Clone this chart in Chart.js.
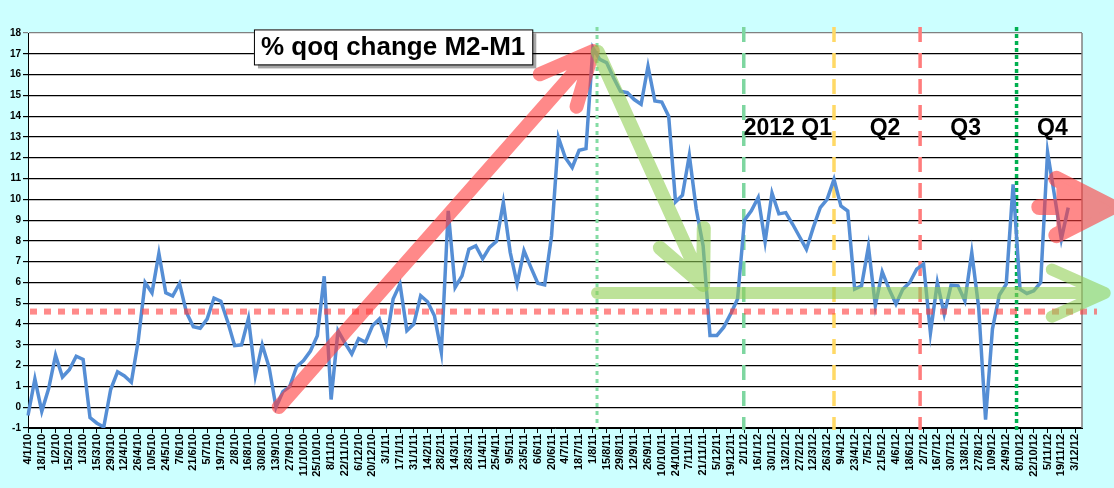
<!DOCTYPE html>
<html>
<head>
<meta charset="utf-8">
<script src="https://cdn.jsdelivr.net/npm/chart.js@4.4.1/dist/chart.umd.min.js"></script>
<style>
html,body{margin:0;padding:0;background:#ccffff;}
#wrap{width:1114px;height:488px;position:relative;}
</style>
</head>
<body>
<div id="wrap"><canvas id="canvas"></canvas></div>
<script>
// weekly dates, d/m/yy
const weeks2010=["4/1/10","11/1/10","18/1/10","25/1/10","1/2/10","8/2/10","15/2/10","22/2/10","1/3/10","8/3/10","15/3/10","22/3/10","29/3/10","5/4/10","12/4/10","19/4/10","26/4/10","3/5/10","10/5/10","17/5/10","24/5/10","31/5/10","7/6/10","14/6/10","21/6/10","28/6/10","5/7/10","12/7/10","19/7/10","26/7/10","2/8/10","9/8/10","16/8/10","23/8/10","30/8/10","6/9/10","13/9/10","20/9/10","27/9/10","4/10/10","11/10/10","18/10/10","25/10/10","1/11/10","8/11/10","15/11/10","22/11/10","29/11/10","6/12/10","13/12/10","20/12/10","27/12/10"];
const weeks2011=["3/1/11","10/1/11","17/1/11","24/1/11","31/1/11","7/2/11","14/2/11","21/2/11","28/2/11","7/3/11","14/3/11","21/3/11","28/3/11","4/4/11","11/4/11","18/4/11","25/4/11","2/5/11","9/5/11","16/5/11","23/5/11","30/5/11","6/6/11","13/6/11","20/6/11","27/6/11","4/7/11","11/7/11","18/7/11","25/7/11","1/8/11","8/8/11","15/8/11","22/8/11","29/8/11","5/9/11","12/9/11","19/9/11","26/9/11","3/10/11","10/10/11","17/10/11","24/10/11","31/10/11","7/11/11","14/11/11","21/11/11","28/11/11","5/12/11","12/12/11","19/12/11","26/12/11"];
const weeks2012=["2/1/12","9/1/12","16/1/12","23/1/12","30/1/12","6/2/12","13/2/12","20/2/12","27/2/12","5/3/12","12/3/12","19/3/12","26/3/12","2/4/12","9/4/12","16/4/12","23/4/12","30/4/12","7/5/12","14/5/12","21/5/12","28/5/12","4/6/12","11/6/12","18/6/12","25/6/12","2/7/12","9/7/12","16/7/12","23/7/12","30/7/12","6/8/12","13/8/12","20/8/12","27/8/12","3/9/12","10/9/12","17/9/12","24/9/12","1/10/12","8/10/12","15/10/12","22/10/12","29/10/12","5/11/12","12/11/12","19/11/12","26/11/12","3/12/12","10/12/12"];

// % qoq change M2-M1
const qoq2010=[-0.4,1.36,-0.2,0.9,2.5,1.45,1.8,2.45,2.3,-0.5,-0.77,-0.95,0.85,1.7,1.5,1.2,3.2,6.0,5.5,7.4,5.5,5.35,5.95,4.56,3.87,3.8,4.24,5.25,5.1,4.1,2.96,3.0,4.27,1.52,3.0,1.92,0.0,0.75,1.0,1.95,2.24,2.7,3.44,6.3,0.37,3.68,3.1,2.56,3.3,3.12,3.92,4.24];
const qoq2011=[3.17,5.2,5.92,3.68,4.0,5.36,5.07,4.4,2.64,9.44,5.76,6.32,7.6,7.76,7.14,7.69,7.98,9.85,7.45,5.93,7.53,6.73,5.96,5.88,8.25,12.97,12.0,11.53,12.36,12.44,17.29,16.73,16.57,15.85,15.2,15.13,14.8,14.57,16.4,14.73,14.68,14.0,9.88,10.2,12.12,9.53,7.77,3.45,3.45,3.85,4.49,5.2];
const qoq2012=[9.0,9.45,10.09,7.96,10.3,9.3,9.36,8.8,8.2,7.6,8.65,9.6,10.0,10.96,9.68,9.44,5.68,5.84,7.73,4.88,6.51,5.68,4.96,5.68,6.0,6.64,6.88,3.57,6.0,4.48,5.87,5.84,5.12,7.44,4.8,-0.6,3.76,5.4,5.92,10.72,5.68,5.47,5.6,6.0,12.27,10.2,8.08,9.6,null,null];

const labels=weeks2010.concat(weeks2011,weeks2012);
const values=qoq2010.concat(qoq2011,qoq2012);
const yMin=-1,yMax=18;
const refLevel=4.6;

// annotations in data units (x = week index, y = value)
const notes={
    title:{x:53,y:17.33,text:"% qoq change M2-M1"},
    quarters:[{x:110.3,text:"2012 Q1"},{x:124.4,text:"Q2"},{x:136.1,text:"Q3"},{x:148.7,text:"Q4"}],
    quarterY:13.4,
    vlines:[
        {x:82.6,color:"#84dca4",dash:[4,4],width:3},
        {x:103.9,color:"#7ed6a0",dash:[15,11],width:3.5},
        {x:117.0,color:"#ffd966",dash:[15,11],width:3.5},
        {x:129.5,color:"#ff7c7c",dash:[15,11],width:3.5},
        {x:143.5,color:"#00b050",dash:[4,3],width:3.5}
    ],
    arrows:[
        {from:[36.4,0.01],to:[82.0,17.13],color:"#ff3b3b",width:14,head:58,angle:25,fill:false},
        {from:[82.7,17.09],to:[98.0,5.88],color:"#92cf57",width:14,head:57,angle:25,fill:false},
        {from:[82.6,5.49],to:[156.3,5.49],color:"#92cf57",width:12,head:58,angle:24,fill:false},
        {from:[146.8,9.63],to:[157.3,9.63],color:"#ff3b3b",width:16,head:62,angle:27,fill:true}
    ]
};

const FONT="Arial, 'Liberation Sans', sans-serif";

function drawArrows(chart){
    const xs=chart.scales.x,ys=chart.scales.y;
    const r=chart.currentDevicePixelRatio;
    notes.arrows.forEach(a=>{
        // draw opaque on a layer, then blend once so overlaps don't darken
        const layer=document.createElement("canvas");
        layer.width=chart.canvas.width;layer.height=chart.canvas.height;
        const c=layer.getContext("2d");
        c.scale(r,r);
        const x1=xs.getPixelForValue(a.from[0]),y1=ys.getPixelForValue(a.from[1]);
        const x2=xs.getPixelForValue(a.to[0]),y2=ys.getPixelForValue(a.to[1]);
        const ang=Math.atan2(y2-y1,x2-x1);
        const h=a.angle*Math.PI/180;
        const p1=[x2-a.head*Math.cos(ang-h),y2-a.head*Math.sin(ang-h)];
        const p2=[x2-a.head*Math.cos(ang+h),y2-a.head*Math.sin(ang+h)];
        c.strokeStyle=a.color;c.fillStyle=a.color;
        c.lineWidth=a.width;c.lineCap="round";c.lineJoin="round";
        c.beginPath();
        c.moveTo(x1,y1);c.lineTo(x2,y2);
        c.moveTo(p1[0],p1[1]);c.lineTo(x2,y2);c.lineTo(p2[0],p2[1]);
        c.stroke();
        if(a.fill){
            c.beginPath();c.moveTo(x2,y2);c.lineTo(p1[0],p1[1]);c.lineTo(p2[0],p2[1]);c.closePath();c.fill();
        }
        const ctx=chart.ctx;
        ctx.save();
        ctx.setTransform(1,0,0,1,0,0);
        ctx.globalAlpha=0.6;
        ctx.drawImage(layer,0,0);
        ctx.restore();
    });
}

const annotate={
    id:"annotate",
    beforeDraw(chart){
        const ctx=chart.ctx,area=chart.chartArea;
        ctx.save();
        ctx.fillStyle="#fff";
        ctx.fillRect(area.left,area.top,area.right-area.left,area.bottom-area.top);
        ctx.restore();
    },
    beforeDatasetsDraw(chart){
        const ctx=chart.ctx,area=chart.chartArea,xs=chart.scales.x;
        ctx.save();
        // right border
        ctx.strokeStyle="#808080";ctx.lineWidth=1.5;
        ctx.beginPath();ctx.moveTo(area.right,area.top);ctx.lineTo(area.right,area.bottom);ctx.stroke();
        notes.vlines.forEach(v=>{
            const x=xs.getPixelForValue(v.x);
            ctx.strokeStyle=v.color;ctx.lineWidth=v.width;ctx.setLineDash(v.dash);
            ctx.beginPath();ctx.moveTo(x,area.top-6);ctx.lineTo(x,area.bottom+2);ctx.stroke();
        });
        ctx.restore();
    },
    afterDatasetsDraw(chart){
        const ctx=chart.ctx,area=chart.chartArea,xs=chart.scales.x,ys=chart.scales.y;
        // dotted reference level
        ctx.save();
        const yr=ys.getPixelForValue(refLevel);
        ctx.strokeStyle="rgba(255,60,60,0.6)";ctx.lineWidth=6;ctx.setLineDash([7,7]);
        ctx.beginPath();ctx.moveTo(area.left+2,yr);ctx.lineTo(area.right+15,yr);ctx.stroke();
        ctx.restore();
        drawArrows(chart);
        ctx.save();
        ctx.fillStyle="#000";
        ctx.font="bold 23px "+FONT;
        ctx.textAlign="center";ctx.textBaseline="middle";
        const qy=ys.getPixelForValue(notes.quarterY);
        notes.quarters.forEach(q=>{
            ctx.fillText(q.text,xs.getPixelForValue(q.x),qy);
        });
        // title box
        const tx=xs.getPixelForValue(notes.title.x),ty=ys.getPixelForValue(notes.title.y);
        ctx.font="bold 26px "+FONT;
        const w=ctx.measureText(notes.title.text).width+14,h=35;
        ctx.fillStyle="rgba(0,0,0,0.35)";
        ctx.fillRect(tx-w/2+4,ty-h/2+4,w,h);
        ctx.fillStyle="#fff";
        ctx.fillRect(tx-w/2,ty-h/2,w,h);
        ctx.strokeStyle="#000";ctx.lineWidth=1;
        ctx.strokeRect(tx-w/2+0.5,ty-h/2+0.5,w,h);
        ctx.fillStyle="#000";
        ctx.fillText(notes.title.text,tx,ty+1);
        ctx.restore();
    }
};

new Chart(document.getElementById("canvas"),{
    type:"line",
    data:{
        labels:labels,
        datasets:[{
            label:"% qoq change M2-M1",
            data:values,
            borderColor:"#558ed5",
            borderWidth:3.5,
            pointRadius:0,
            tension:0,
            spanGaps:false
        }]
    },
    options:{
        responsive:true,
        maintainAspectRatio:false,
        animation:false,
        layout:{padding:{left:0,right:32,top:33,bottom:0}},
        plugins:{legend:{display:false},tooltip:{enabled:false}},
        scales:{
            x:{
                offset:false,
                grid:{
                    drawOnChartArea:false,
                    tickLength:5,
                    color:c=>c.index%2===0?"#000":"rgba(0,0,0,0)"
                },
                border:{color:"#000",width:1},
                ticks:{
                    autoSkip:false,
                    minRotation:90,
                    maxRotation:90,
                    padding:1,
                    color:"#000",
                    font:{family:FONT,size:11,weight:"bold"},
                    callback:(v,i)=>i%2===0?labels[i]:""
                },
                afterFit:s=>{s.height=60;}
            },
            y:{
                min:yMin,
                max:yMax,
                ticks:{
                    stepSize:1,
                    padding:2,
                    color:"#000",
                    font:{family:FONT,size:10,weight:"bold"}
                },
                grid:{
                    tickLength:5,
                    lineWidth:1.2,
                    color:c=>c.tick&&c.tick.value===yMax?"#808080":"#000"
                },
                border:{color:"#000",width:1},
                afterFit:s=>{s.width=28;}
            }
        }
    },
    plugins:[annotate]
});
</script>
</body>
</html>
